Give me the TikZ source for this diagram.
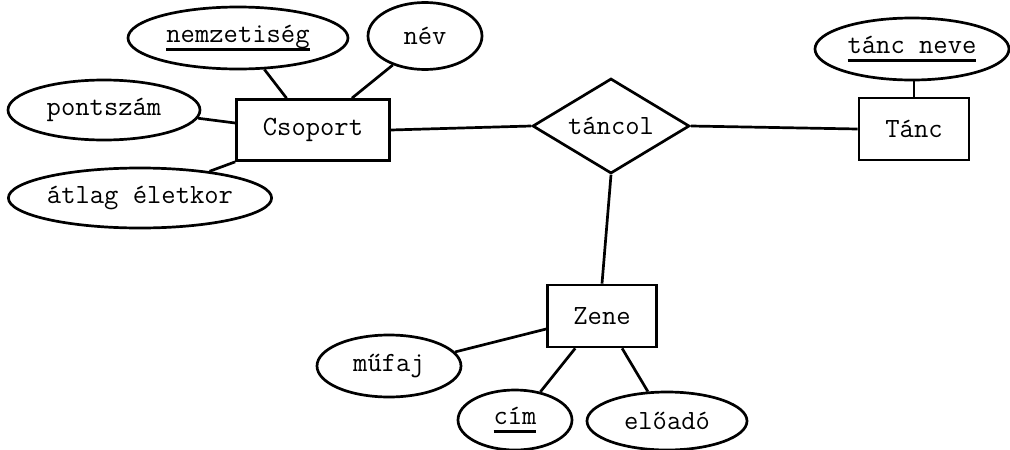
\documentclass[tikz,border=0pt]{standalone}
\usepackage{fontspec}
\usetikzlibrary{shapes.geometric,calc}
% underlined key attribute
\newcommand\keyattr[1]{\setbox0\hbox{#1}\leavevmode\rlap{\rule[-8pt]{\wd0}{2.4pt}}\box0}
\tikzset{
  base/.style={draw=black, line width=2.7pt, inner sep=0pt,
    font=\ttfamily\fontsize{27.8}{32}\selectfont},
  entity/.style={base, rectangle},
  attr/.style={base, ellipse},
  rel/.style={base, diamond},
  link/.style={line width=2.7pt, draw=black}
}
\begin{document}
\begin{tikzpicture}[x=1pt, y=-1pt]
\useasboundingbox (0,0) rectangle (1010,450);

% entities
\node[entity, minimum width=153, minimum height=61] (csoport) at (313,130) {Csoport};
\node[entity, minimum width=110, minimum height=62] (tanc) at (914,129) {Tánc};
\node[entity, minimum width=109, minimum height=62] (zene) at (602,316) {Zene};

% relationship
\node[rel, minimum width=157, minimum height=95, aspect=1.65] (tancol) at (611,126) {táncol};

% attributes
\node[attr, minimum width=220, minimum height=62] (nemz) at (238,38) {\keyattr{nemzetiség}};
\node[attr, minimum width=114, minimum height=67] (nev) at (425,36) {név};
\node[attr, minimum width=192, minimum height=60] (pont) at (104,110) {pontszám};
\node[attr, minimum width=262, minimum height=60] (atlag) at (140,198) {átlag életkor};
\node[attr, minimum width=194, minimum height=62] (tancneve) at (912,49) {\keyattr{tánc neve}};
\node[attr, minimum width=144, minimum height=62] (mufaj) at (389,366) {műfaj};
\node[attr, minimum width=114, minimum height=60] (cim) at (515,420) {\keyattr{cím}};
\node[attr, minimum width=160, minimum height=58] (eloado) at (667,421) {előadó};

% connectors
\draw[link] (nemz.-50) -- ($(csoport.north west)!0.33!(csoport.north east)$);
\draw[link] (nev.-138) -- ($(csoport.north west)!0.75!(csoport.north east)$);
\draw[link] (pont.-5) -- ($(csoport.west)+(0,-7)$);
\draw[link] (atlag.21) -- (csoport.south west);
\draw[link] (csoport.east) -- (tancol.west);
\draw[link] (tancol.east) -- (tanc.west);
\draw[link] (tanc.north) -- (tanc.north |- tancneve.south);
\draw[link] (tancol.south) -- (zene.north);
\draw[link] (mufaj.12) -- ($(zene.west)+(0,13)$);
\draw[link] (cim.48) -- ($(zene.south west)!0.26!(zene.south east)$);
\draw[link] (eloado.123) -- ($(zene.south west)!0.68!(zene.south east)$);
\end{tikzpicture}
\end{document}
